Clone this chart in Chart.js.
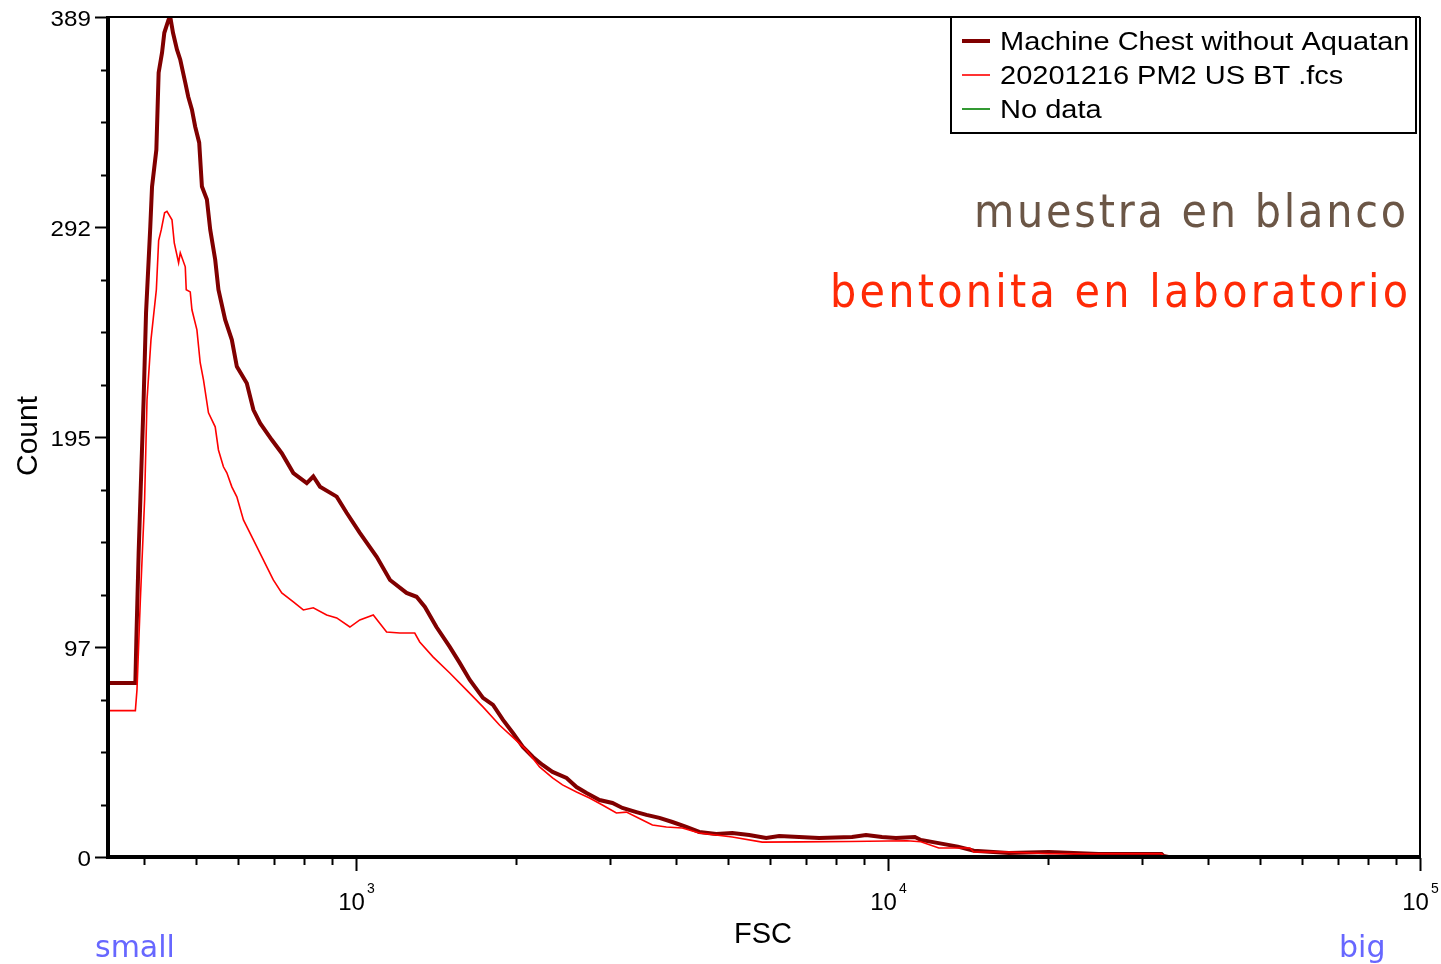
<!DOCTYPE html>
<html>
<head>
<meta charset="utf-8">
<script src="https://cdn.jsdelivr.net/npm/chart.js@4"></script>
<style>
  html, body { margin: 0; padding: 0; background: #fff; }
  canvas { display: block; }
</style>
</head>
<body>
<canvas id="myChart" width="1441" height="964"></canvas>
<script>
// FSC channel values and counts
var darkFsc = [342, 385, 386.6, 390.5, 393.4, 399.0, 403.2, 410.7, 413.8, 421.6, 425.8, 432.1, 436.4, 444.5, 447.8, 453.1, 461.0, 467.6, 477.8, 484.0,
  491.8, 498.8, 507.5, 513.5, 524.7, 532.3, 543.9, 551.6, 567.8, 584.5, 597.3, 623.6, 641.7, 660.6, 694.7, 725.5, 762.8, 808.4, 831.6, 856.0,
  920.2, 960.5, 1017, 1094, 1159, 1245, 1300, 1348, 1417, 1501, 1567, 1637, 1733, 1810, 1890, 1973, 2060, 2151, 2243, 2342,
  2488, 2598, 2713, 2870, 3035, 3169, 3367, 3516, 3719, 3933, 4178, 4420, 4757, 5097, 5486, 5904, 6245, 6808, 7423, 8559,
  9094, 9745, 10351, 11236, 11530, 13530, 14503, 16866, 20053, 24885, 32672, 32953, 33671, 100000];
var darkCount = [80.6, 80.6, 100, 140.8, 165.4, 211.7, 252.0, 291.9, 310.4, 327.5, 363.2, 372.5, 381.7, 387.8, 389, 381.7, 373.9, 369.2, 358.6, 352.1,
  346.1, 338.2, 330.8, 310.5, 304.5, 290.5, 276.6, 262.7, 248.8, 239.5, 227.1, 219.4, 207.1, 200.9, 193.2, 187.0, 177.8, 173.1, 176.2, 171.5,
  166.9, 159.4, 150.1, 139.0, 128.3, 122.3, 120.5, 115.8, 106.5, 97.3, 89.9, 82.0, 73.7, 70.4, 63.5, 57.4, 51.0, 46.3, 42.6, 39.4,
  36.6, 32.4, 29.6, 26.4, 25.0, 22.7, 20.8, 19.5, 18.1, 16.2, 13.9, 11.6, 10.7, 11.1, 10.2, 8.8, 9.7, 9.3, 8.8, 9.3,
  10.2, 9.3, 8.8, 9.3, 7.9, 4.8, 2.9, 1.9, 2.3, 1.4, 1.4, 0.5, 0, 0];

var redFsc = [342, 385, 387.7, 393.4, 400.7, 404.9, 411.9, 421.6, 425.8, 430.7, 436.9, 441.4, 451.1, 455.6, 464.2, 467.6, 477.8, 479.8, 488.2, 491.8,
  502.5, 509.7, 517.0, 528.3, 543.9, 551.6, 563.6, 572.0, 584.5, 597.3, 614.6, 641.7, 669.9, 699.4, 725.5, 762.8, 796.4, 831.6, 881.1, 920.2,
  974.3, 1017, 1078, 1142, 1209, 1290, 1318, 1396, 1501, 1613, 1733, 1863, 1973, 2091, 2214, 2342, 2445, 2598, 2748, 2906,
  3087, 3224, 3455, 3608, 3833, 4106, 4420, 5097, 5803, 6808, 8448, 10857, 11530, 12463, 14255, 14503, 16866, 20053, 32672, 32953,
  33671, 100000];
var redCount = [67.8, 67.8, 77.4, 119.1, 165.4, 211.7, 239.5, 262.7, 285.5, 290.5, 298.3, 299.0, 295.1, 284.4, 275.2, 279.8, 273.3, 262.7, 261.7, 253.4,
  244.1, 228.9, 221.0, 205.7, 199.2, 188.5, 180.7, 177.9, 171.4, 166.8, 156.1, 146.9, 137.6, 128.3, 122.3, 118.1, 114.4, 115.4, 112.1, 110.7,
  106.5, 109.8, 112.1, 104.2, 103.7, 103.7, 99.6, 92.7, 85.2, 77.4, 69.5, 61, 55.4, 49.6, 41.7, 36.6, 33.4, 30.1, 27.3, 24.1,
  20.4, 20.8, 17.1, 14.8, 13.9, 13.4, 11.1, 9.3, 6.9, 7.0, 7.2, 7.5, 7.1, 4.2, 4.2, 2.3, 2.3, 1.5, 1.5, 0.5,
  0, 0];

var seriesNames = ["Machine Chest without Aquatan", "20201216 PM2 US BT .fcs", "No data"];

// axis ticks
var xMajorTicks = [1000, 10000, 100000];
var xMinorTicks = [400, 500, 600, 700, 800, 900, 2000, 3000, 4000, 5000, 6000, 7000, 8000, 9000,
  20000, 30000, 40000, 50000, 60000, 70000, 80000, 90000];
var yTickLabels = [0, 97, 195, 292, 389];

var ARIAL = '"Liberation Sans", Arial, sans-serif';

function points(xs, ys) {
  return xs.map(function (v, i) { return { x: v, y: ys[i] }; });
}

function line(ctx, x1, y1, x2, y2) {
  ctx.beginPath();
  ctx.moveTo(x1, y1);
  ctx.lineTo(x2, y2);
  ctx.stroke();
}

// text squeezed/stretched horizontally
function stretchText(ctx, text, x, y, sx, align) {
  ctx.save();
  ctx.translate(x, y);
  ctx.scale(sx, 1);
  ctx.textAlign = align;
  ctx.fillText(text, 0, 0);
  ctx.restore();
}

// text spread out to a given width, right edge at `right`
function spacedText(ctx, text, right, y, width) {
  var ws = text.split("").map(function (c) { return ctx.measureText(c).width; });
  var sum = ws.reduce(function (a, b) { return a + b; }, 0);
  var gap = (width - sum) / (text.length - 1);
  var x = right - width;
  ctx.textAlign = "left";
  for (var i = 0; i < text.length; i++) {
    ctx.fillText(text[i], x, y);
    x += ws[i] + gap;
  }
}

var decorations = {
  id: "decorations",
  afterDraw: function (chart) {
    var ctx = chart.ctx, a = chart.chartArea;
    var xs = chart.scales.x, ys = chart.scales.y;
    ctx.save();
    ctx.strokeStyle = "#000";
    ctx.fillStyle = "#000";

    // frame
    ctx.lineWidth = 2;
    line(ctx, a.left, a.top, a.right, a.top);
    line(ctx, a.right, a.top, a.right, a.bottom);
    ctx.lineWidth = 4;
    line(ctx, a.left, a.top - 1, a.left, a.bottom + 2);
    line(ctx, a.left - 2, a.bottom, a.right + 1, a.bottom);

    // y ticks
    ctx.lineWidth = 2;
    ctx.font = "22px " + ARIAL;
    ctx.textBaseline = "alphabetic";
    ys.ticks.forEach(function (t, i) {
      var py = Math.round(ys.getPixelForValue(t.value)) + 0.5;
      var major = i % 4 === 0;
      line(ctx, major ? a.left - 13 : a.left - 7, py, a.left - 1, py);
      if (major) {
        stretchText(ctx, String(yTickLabels[i / 4]), a.left - 17, py + 8, 1.1, "right");
      }
    });

    // x ticks
    xs.ticks.forEach(function (t) {
      var px = Math.round(xs.getPixelForValue(t.value)) + 0.5;
      var major = xMajorTicks.indexOf(t.value) >= 0;
      line(ctx, px, a.bottom + 1, px, a.bottom + (major ? 14 : 8));
      if (major) {
        var exp = String(Math.round(Math.log10(t.value)));
        ctx.font = "24px " + ARIAL;
        var w1 = ctx.measureText("10").width;
        ctx.font = "14px " + ARIAL;
        var w2 = ctx.measureText(exp).width;
        var x0 = px - (w1 + 2 + w2) / 2;
        ctx.textAlign = "left";
        ctx.font = "24px " + ARIAL;
        ctx.fillText("10", x0, a.bottom + 53);
        ctx.font = "14px " + ARIAL;
        ctx.fillText(exp, x0 + w1 + 2, a.bottom + 36);
      }
    });

    // axis titles
    ctx.font = "29px " + ARIAL;
    ctx.textAlign = "center";
    ctx.fillText("FSC", 763, 943);
    ctx.save();
    ctx.translate(37, 436);
    ctx.rotate(-Math.PI / 2);
    ctx.font = "30px " + ARIAL;
    ctx.fillText("Count", 0, 0);
    ctx.restore();

    // legend box
    var lx = 951, ly = a.top, lw = 465, lh = 116;
    ctx.fillStyle = "#fff";
    ctx.fillRect(lx, ly, lw, lh);
    ctx.lineWidth = 2;
    ctx.strokeRect(lx, ly, lw, lh);
    ctx.font = "25px " + ARIAL;
    chart.data.datasets.forEach(function (ds, i) {
      var cy = ly + 24 + i * 34;
      ctx.strokeStyle = ds.borderColor;
      ctx.lineWidth = ds.borderWidth;
      line(ctx, lx + 11, cy, lx + 39, cy);
      ctx.fillStyle = "#000";
      stretchText(ctx, ds.label, lx + 49, cy + 9, 1.16, "left");
    });

    // annotations
    ctx.textBaseline = "alphabetic";
    ctx.font = '46px "DejaVu Sans Condensed", "DejaVu Sans", sans-serif';
    ctx.fillStyle = "#6b5646";
    spacedText(ctx, "muestra en blanco", 1406, 227, 432);
    ctx.fillStyle = "#ff2a06";
    spacedText(ctx, "bentonita en laboratorio", 1408, 307, 578);

    ctx.font = '30px "DejaVu Sans", Verdana, sans-serif';
    ctx.fillStyle = "#6767ff";
    ctx.textAlign = "left";
    ctx.fillText("small", 95, 957);
    ctx.fillText("big", 1339, 957);

    ctx.restore();
  }
};

var ctx = document.getElementById("myChart");

new Chart(ctx, {
  type: "scatter",
  data: {
    datasets: [
      {
        label: seriesNames[0],
        data: points(darkFsc, darkCount),
        showLine: true,
        borderColor: "#800000",
        backgroundColor: "#800000",
        borderWidth: 4,
        pointRadius: 0,
        order: 2,
      },
      {
        label: seriesNames[1],
        data: points(redFsc, redCount),
        showLine: true,
        borderColor: "#ff0000",
        backgroundColor: "#ff0000",
        borderWidth: 1.6,
        pointRadius: 0,
        order: 1,
      },
      {
        label: seriesNames[2],
        data: [],
        showLine: true,
        borderColor: "#008000",
        backgroundColor: "#008000",
        borderWidth: 1.6,
        pointRadius: 0,
        order: 3,
      },
    ],
  },
  options: {
    responsive: false,
    devicePixelRatio: 1,
    animation: false,
    layout: { padding: { left: 0, top: 17, right: 21, bottom: 0 } },
    plugins: {
      legend: { display: false },
      tooltip: { enabled: false },
    },
    scales: {
      x: {
        type: "logarithmic",
        min: 342,
        max: 100000,
        grid: { display: false },
        border: { display: false },
        ticks: { display: false },
        afterBuildTicks: function (scale) {
          scale.ticks = xMinorTicks.concat(xMajorTicks).sort(function (a, b) { return a - b; })
            .map(function (v) { return { value: v }; });
        },
        afterFit: function (scale) { scale.height = 107; },
      },
      y: {
        min: 0,
        max: 389,
        grid: { display: false },
        border: { display: false },
        ticks: { display: false },
        afterBuildTicks: function (scale) {
          var ticks = [];
          // four minor steps between the labelled values
          for (var i = 0; i < yTickLabels.length; i++) {
            ticks.push({ value: i * 389 / 4 });
            if (i < yTickLabels.length - 1) {
              for (var k = 1; k < 4; k++) ticks.push({ value: (i * 4 + k) * 389 / 16 });
            }
          }
          scale.ticks = ticks;
        },
        afterFit: function (scale) { scale.width = 108; },
      },
    },
  },
  plugins: [decorations],
});
</script>
</body>
</html>
